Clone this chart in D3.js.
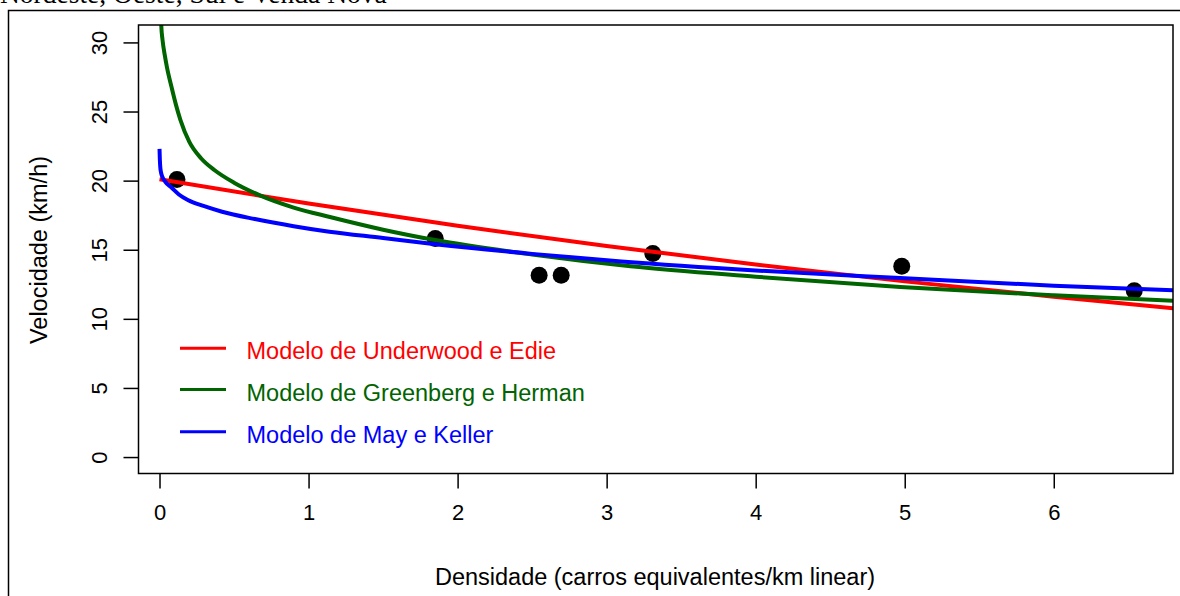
<!DOCTYPE html>
<html>
<head>
<meta charset="utf-8">
<script src="https://cdn.jsdelivr.net/npm/d3@7"></script>
<style>
  html, body { margin: 0; padding: 0; background: #fff; }
  svg { display: block; }
  text { font-family: "Liberation Sans", Arial, sans-serif; }
</style>
</head>
<body>
<svg id="chart" width="1180" height="596"></svg>
<script>
// ---- data ----
const titleText = "Nordeste, Oeste, Sul e Venda Nova";
const xTicks = [0, 1, 2, 3, 4, 5, 6];
const yTicks = [0, 5, 10, 15, 20, 25, 30];

const obsK = [0.117, 1.85, 2.547, 2.695, 3.31, 4.98, 6.54];
const obsV = [20.08, 15.81, 13.16, 13.16, 14.73, 13.81, 12.03];

const underwoodK = [0, 1, 2, 3, 4, 5, 6, 6.85];
const underwoodV = [20.1, 18.34, 16.73, 15.27, 13.93, 12.71, 11.6, 10.72];

const greenbergK = [0.008, 0.012, 0.02, 0.035, 0.05, 0.08, 0.11, 0.14, 0.2, 0.28, 0.37, 0.5, 0.67, 0.9, 1.15, 1.5, 1.85, 2.5, 3.16, 4.0, 4.97, 6.0, 6.85];
const greenbergV = [32.6, 31.2, 30.2, 29.1, 28.2, 26.8, 25.5, 24.4, 22.8, 21.6, 20.75, 19.85, 18.95, 18.05, 17.35, 16.45, 15.7, 14.65, 13.8, 13.05, 12.3, 11.7, 11.28];

const mayKellerK = [0, 0.002, 0.005, 0.01, 0.02, 0.04, 0.08, 0.13, 0.19, 0.3, 0.42, 0.64, 0.9, 1.14, 1.5, 1.85, 2.5, 3.1, 4.0, 4.97, 6.0, 6.85];
const mayKellerV = [22.3, 21.6, 21.0, 20.6, 20.25, 19.9, 19.5, 19.0, 18.6, 18.15, 17.75, 17.22, 16.7, 16.3, 15.85, 15.4, 14.7, 14.15, 13.5, 12.95, 12.4, 12.05];

const legendLabels = ["Modelo de Underwood e Edie", "Modelo de Greenberg e Herman", "Modelo de May e Keller"];
const seriesColors = ["#ff0000", "#006400", "#0000ff"];
const xTitle = "Densidade (carros equivalentes/km linear)";
const yTitle = "Velocidade (km/h)";

// ---- layout ----
const plot = { left: 138.5, right: 1173, top: 25, bottom: 473.5 };
const xLim = [-0.141, 6.8];
const yLim = [-1.19, 31.26];

const svg = d3.select("#chart");
const x = d3.scaleLinear().domain(xLim).range([plot.left, plot.right]);
const y = d3.scaleLinear().domain(yLim).range([plot.bottom, plot.top]);

// outer figure frame
svg.append("rect").attr("x", 8.5).attr("y", 10.5).attr("width", 1300).attr("height", 700)
  .attr("fill", "none").attr("stroke", "#000").attr("stroke-width", 1.5);

// title, cut off at the top edge as in the reference
svg.append("text").attr("x", 0).attr("y", 3)
  .style("font-family", "'Liberation Serif', 'Times New Roman', serif")
  .style("font-size", "27.5px").attr("fill", "#000").text(titleText);

// clip
svg.append("defs").append("clipPath").attr("id", "clip")
  .append("rect").attr("x", plot.left).attr("y", plot.top)
  .attr("width", plot.right - plot.left).attr("height", plot.bottom - plot.top);

// axes
const xAxis = d3.axisBottom(x).tickValues(xTicks).tickSize(15).tickPadding(16).tickFormat(d3.format("d"));
const gx = svg.append("g").attr("transform", `translate(0,${plot.bottom})`).call(xAxis);
gx.select(".domain").remove();
gx.selectAll(".tick line").attr("stroke", "#000").attr("stroke-width", 1.5);
gx.selectAll(".tick text").style("font-size", "22px").attr("fill", "#000");

const yAxis = d3.axisLeft(y).tickValues(yTicks).tickSize(15).tickPadding(0).tickFormat(d3.format("d"));
const gy = svg.append("g").attr("transform", `translate(${plot.left},0)`).call(yAxis);
gy.select(".domain").remove();
gy.selectAll(".tick line").attr("stroke", "#000").attr("stroke-width", 1.5);
gy.selectAll(".tick text")
  .attr("x", null).attr("dy", null)
  .attr("text-anchor", "middle")
  .attr("transform", "translate(-32,0) rotate(-90)")
  .style("font-size", "22px").attr("fill", "#000");

// observed points (drawn beneath the lines)
const pts = obsK.map((k, i) => ({ k, v: obsV[i] }));
svg.append("g").attr("clip-path", "url(#clip)").selectAll("circle").data(pts).enter()
  .append("circle").attr("cx", d => x(d.k)).attr("cy", d => y(d.v)).attr("r", 8.5).attr("fill", "#000");

// model curves
const line = d3.line().x(d => x(d.k)).y(d => y(d.v)).curve(d3.curveMonotoneX);
const series = [
  underwoodK.map((k, i) => ({ k, v: underwoodV[i] })),
  greenbergK.map((k, i) => ({ k, v: greenbergV[i] })),
  mayKellerK.map((k, i) => ({ k, v: mayKellerV[i] }))
];
const gl = svg.append("g").attr("clip-path", "url(#clip)");
series.forEach((s, i) => {
  gl.append("path").datum(s).attr("d", line).attr("fill", "none")
    .attr("stroke", seriesColors[i]).attr("stroke-width", 4);
});

// plot box
svg.append("rect").attr("x", plot.left).attr("y", plot.top)
  .attr("width", plot.right - plot.left).attr("height", plot.bottom - plot.top)
  .attr("fill", "none").attr("stroke", "#000").attr("stroke-width", 1.5);

// legend
const legY = [348.3, 389.5, 431.7];
const leg = svg.append("g");
legendLabels.forEach((lab, i) => {
  leg.append("line").attr("x1", 180).attr("x2", 226).attr("y1", legY[i]).attr("y2", legY[i])
    .attr("stroke", seriesColors[i]).attr("stroke-width", 3);
  leg.append("text").attr("x", 246.5).attr("y", legY[i] + 11)
    .style("font-size", "23.5px").attr("fill", seriesColors[i]).text(lab);
});

// axis titles
svg.append("text").attr("x", 655).attr("y", 585).attr("text-anchor", "middle")
  .style("font-size", "23.5px").attr("fill", "#000").text(xTitle);
svg.append("text").attr("transform", "translate(47,250) rotate(-90)").attr("text-anchor", "middle")
  .style("font-size", "23.5px").attr("fill", "#000").text(yTitle);
</script>
</body>
</html>
